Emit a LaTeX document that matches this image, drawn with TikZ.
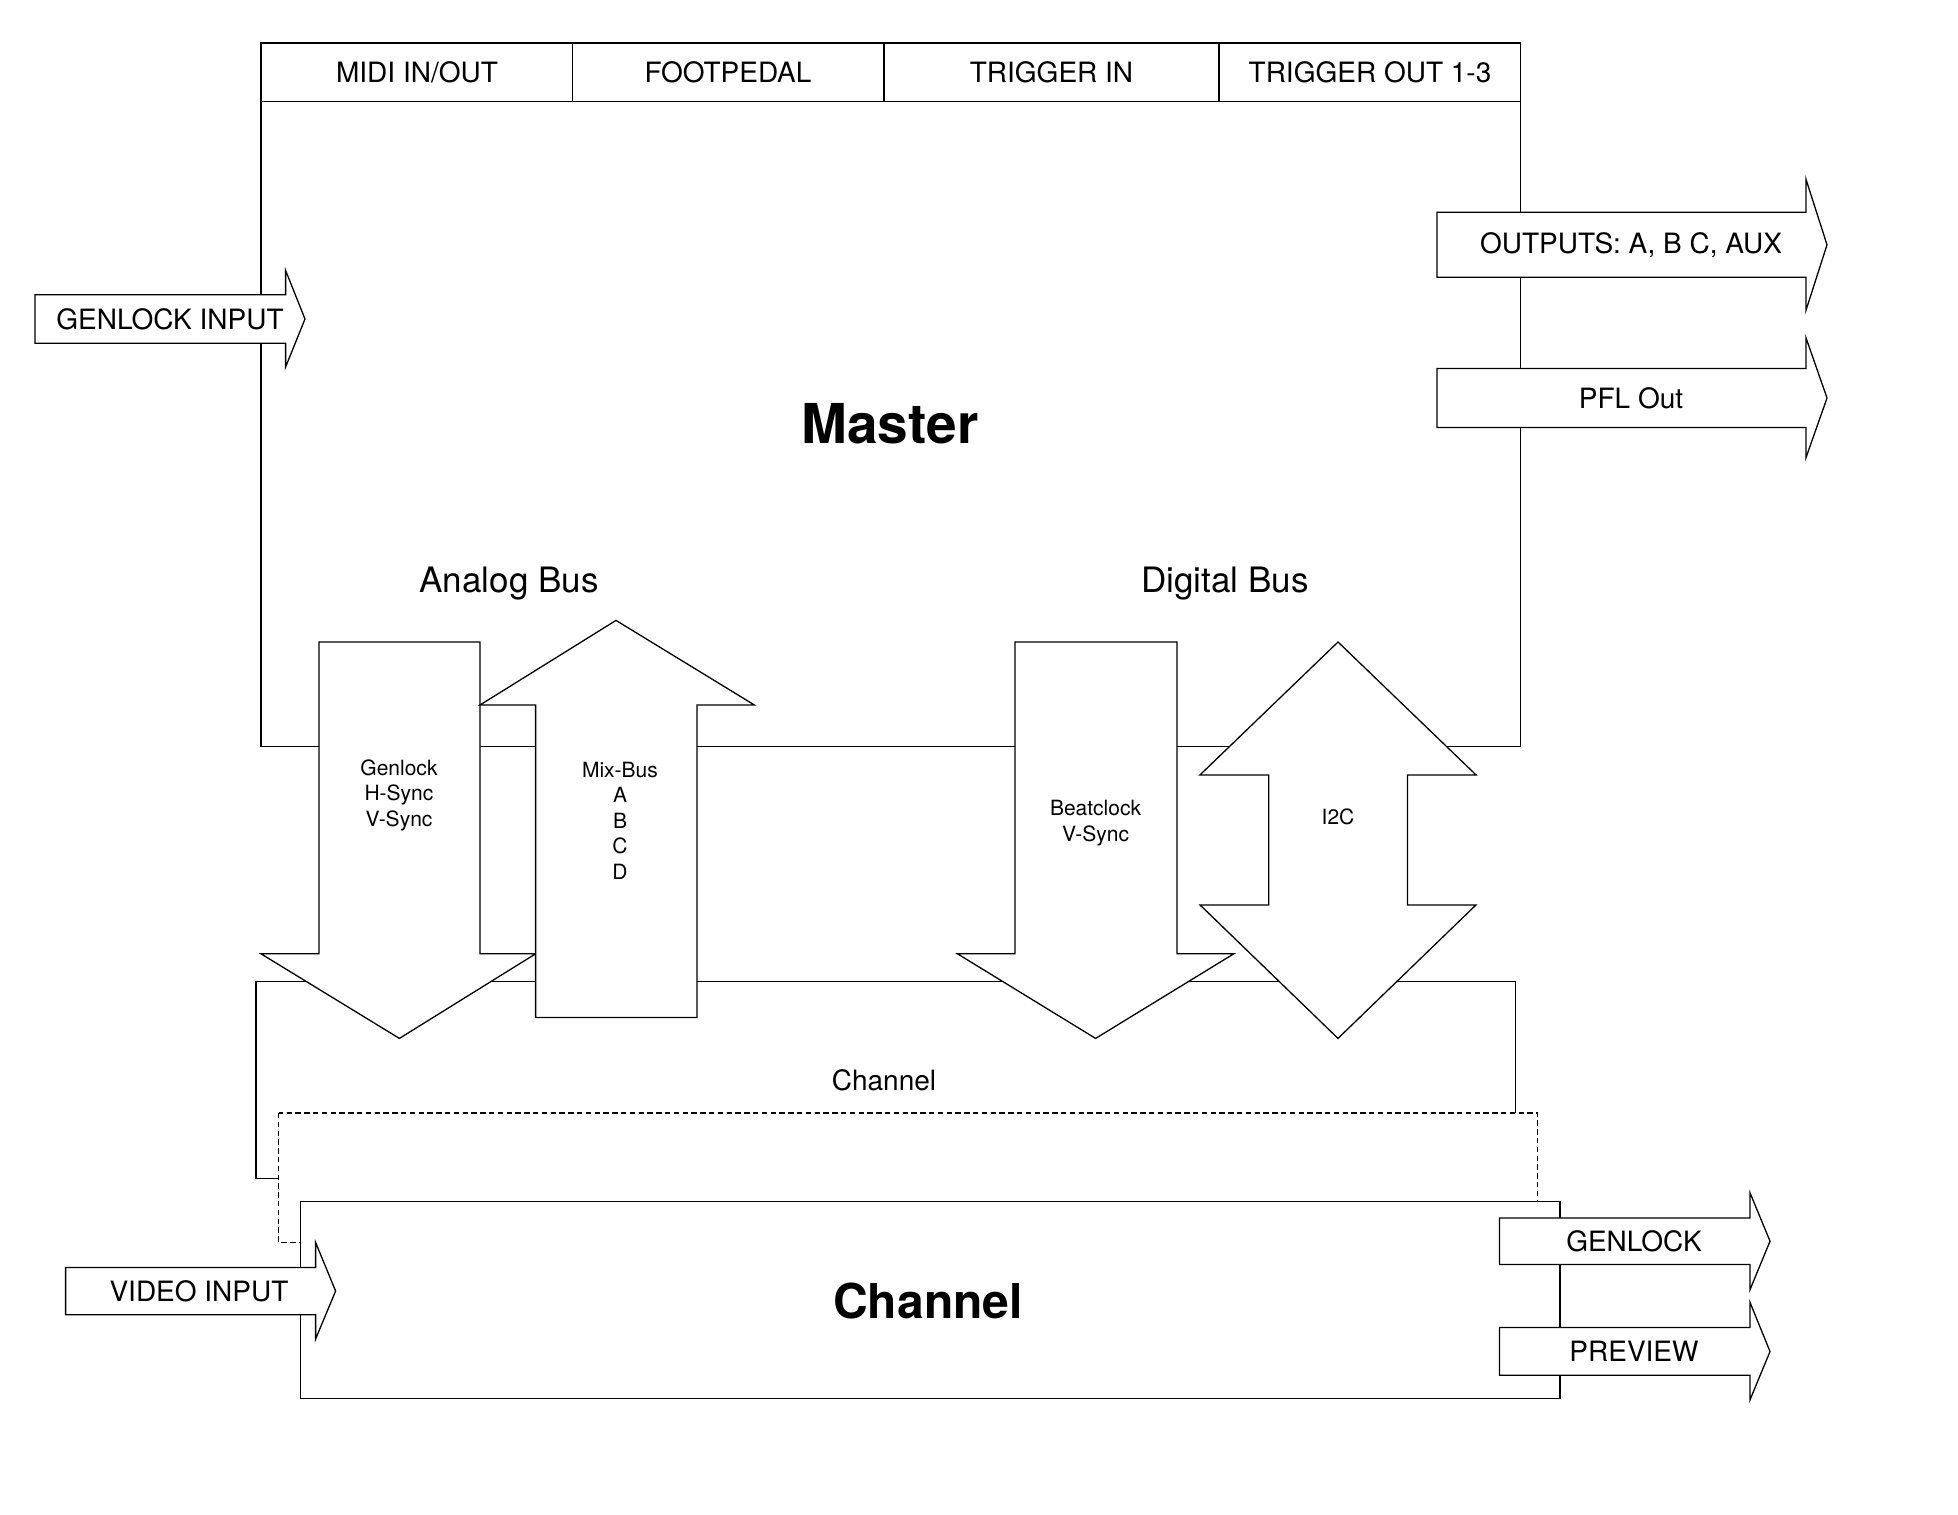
\documentclass[tikz,border=0pt]{standalone}
\usepackage{fontspec}
\setmainfont{TeX Gyre Heros}
\usetikzlibrary{calc,positioning}

\begin{document}
\begin{tikzpicture}[x=0.5pt, y=-0.5pt]
\tikzset{blockline/.style={draw, fill=white, line width=0.65pt, line join=miter},
dashline/.style={draw, fill=white, line width=0.65pt, dash pattern=on 2.7pt off 1.7pt},
portlabel/.style={font=\fontsize{14}{16}\selectfont},
buslabel/.style={font=\fontsize{17.5}{20}\selectfont},
siglabel/.style={font=\fontsize{10.5}{12.75}\selectfont, align=center},
titlelabel/.style={font=\bfseries\fontsize{27.5}{31}\selectfont}}

\useasboundingbox (0,0) rectangle (1958,1514);

%% Master box with header row
\draw[blockline] (261,43) rectangle (1520.6,746.7);
\draw[blockline] (261,43) rectangle (1520.6,101.8);
\foreach \xd in {572.5, 884, 1219} \draw[line width=0.65pt] (\xd,43) -- (\xd,101.8);
\node (midi) [portlabel] at (417,72.5) {MIDI IN/OUT};
\node (pedal) [portlabel] at (728,72.5) {FOOTPEDAL};
\node (trigin) [portlabel] at (1051.5,72.5) {TRIGGER IN};
\node (trigout) [portlabel] at (1370,72.5) {TRIGGER OUT 1-3};
\node (master) [titlelabel] at (890,424) {Master};
\node (analog) [buslabel] at (509,584) {Analog Bus};
\node (digital) [buslabel] at (1225,584) {Digital Bus};

%% Channel stack
\draw[blockline] (256,981.2) rectangle (1515.6,1178.3);
\node (chansmall) [portlabel] at (884,1080) {Channel};
\draw[dashline] (278.7,1113) rectangle (1537.5,1242.4);
\draw[blockline] (300.6,1201.6) rectangle (1560,1398.6);
\node (channel) [titlelabel, font=\bfseries\fontsize{24}{28}\selectfont] at (928,1301) {Channel};

%% Side arrows (in / out)
\foreach \xa/\ya/\yb/\xh/\yt/\yu/\xt/\ym in {35/294.7/343.2/285.6/270.5/367/305/319,
  1437/212.3/277.3/1806/179.4/310.2/1827/244.8,
  1437/368.4/427.5/1806/337.9/457.6/1827/398,
  65.6/1267.4/1314.7/315.6/1242.4/1339/335.6/1291,
  1499.4/1217.9/1264.5/1750/1192.8/1289.6/1770/1241.2,
  1499.4/1327.5/1375.3/1750/1302.4/1399.8/1770/1351.5}
  \draw[blockline] (\xa,\ya) -- (\xh,\ya) -- (\xh,\yt) -- (\xt,\ym) -- (\xh,\yu) -- (\xh,\yb) -- (\xa,\yb) -- cycle;
\node (genin) [portlabel] at (170,319) {GENLOCK INPUT};
\node (outs) [portlabel] at (1631,244.8) {OUTPUTS: A, B C, AUX};
\node (pfl) [portlabel] at (1631,398) {PFL Out};
\node (vidin) [portlabel] at (199,1291) {VIDEO INPUT};
\node (genout) [portlabel] at (1634,1241.2) {GENLOCK};
\node (preview) [portlabel] at (1634,1351.5) {PREVIEW};

%% Bus arrows
\draw[blockline] (319,642) -- (480,642) -- (480,953.8) -- (535.6,953.8) -- (399.4,1038.4)
  -- (261,953.8) -- (319,953.8) -- cycle;
\draw[blockline] (616,620.4) -- (754.4,705) -- (697,705) -- (697,1017.4) -- (535.6,1017.4)
  -- (535.6,705) -- (480,705) -- cycle;
\draw[blockline] (1015,642) -- (1177,642) -- (1177,953.8) -- (1233.75,953.8) -- (1095.6,1038.4)
  -- (957.5,953.8) -- (1015,953.8) -- cycle;
\draw[blockline] (1338,642) -- (1476,774.9) -- (1407.5,774.9) -- (1407.5,904.9) -- (1476,904.9)
  -- (1338,1038.4) -- (1200,904.9) -- (1268.75,904.9) -- (1268.75,774.9) -- (1200,774.9) -- cycle;
\node (gensig) [siglabel] at (399,795.3) {Genlock\\H-Sync\\V-Sync};
\node (mixsig) [siglabel] at (620,820.8) {Mix-Bus\\A\\B\\C\\D};
\node (beatsig) [siglabel] at (1095.6,823) {Beatclock\\V-Sync};
\node (i2csig) [siglabel] at (1338,817) {I2C};

\end{tikzpicture}
\end{document}
